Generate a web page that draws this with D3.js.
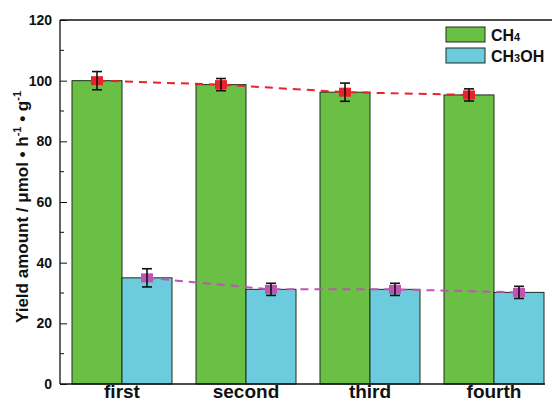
<!DOCTYPE html>
<html><head><meta charset="utf-8">
<script src="https://cdn.jsdelivr.net/npm/d3@7"></script>
<style>body{margin:0;background:#fff}svg{display:block}text{font-family:"Liberation Sans",Arial,sans-serif;font-weight:bold}</style>
</head><body>
<svg id="c" width="552" height="402"></svg>
<script>
const categories = ["first","second","third","fourth"];
const ch4 = [100, 98.7, 96.2, 95.3];
const ch4Err = [3, 2, 3, 2];
const ch3oh = [35, 31.2, 31.2, 30.2];
const ch3ohErr = [3, 2, 2, 2];
const yTicks = [0,20,40,60,80,100,120];

const svg = d3.select("#c");
const L = 60, T = 20, B = 384;
const y = d3.scaleLinear().domain([0,120]).range([B,T]);
const x0 = d3.scaleBand().domain(categories).range([72, 544]).paddingInner(24/124).paddingOuter(0);
const bw = x0.bandwidth()/2;
const gx = c => x0(c);

const colors = {ch4:"#6abf45", ch3oh:"#6ccbdc"};

const g = svg.append("g");
categories.forEach((c,i)=>{
  g.append("rect").attr("x",gx(c)).attr("y",y(ch4[i])).attr("width",bw).attr("height",B-y(ch4[i]))
    .attr("fill",colors.ch4).attr("stroke","#1f2f1f").attr("stroke-width",1);
  g.append("rect").attr("x",gx(c)+bw).attr("y",y(ch3oh[i])).attr("width",bw).attr("height",B-y(ch3oh[i]))
    .attr("fill",colors.ch3oh).attr("stroke","#1f2f1f").attr("stroke-width",1);
});

function series(vals, errs, off, col){
  const pts = categories.map((c,i)=>[gx(c)+off, y(vals[i])]);
  svg.append("path").attr("d", d3.line()(pts)).attr("fill","none").attr("stroke",col)
    .attr("stroke-width",2).attr("stroke-dasharray","8,6");
  categories.forEach((c,i)=>{
    const cx = gx(c)+off;
    svg.append("rect").attr("x",cx-6).attr("y",y(vals[i])-4.5).attr("width",12).attr("height",9).attr("fill",col);
    const e = svg.append("g").attr("stroke","#111").attr("stroke-width",1.6);
    e.append("line").attr("x1",cx).attr("x2",cx).attr("y1",y(vals[i]+errs[i])).attr("y2",y(vals[i]-errs[i]));
    e.append("line").attr("x1",cx-5).attr("x2",cx+5).attr("y1",y(vals[i]+errs[i])).attr("y2",y(vals[i]+errs[i]));
    e.append("line").attr("x1",cx-5).attr("x2",cx+5).attr("y1",y(vals[i]-errs[i])).attr("y2",y(vals[i]-errs[i]));
  });
}
series(ch4, ch4Err, bw/2, "#e8242b");
series(ch3oh, ch3ohErr, bw*1.5, "#c054b4");

const ay = svg.append("g").attr("transform",`translate(${L},0)`)
  .call(d3.axisLeft(y).tickValues(yTicks).tickSize(-7).tickPadding(8));
ay.select(".domain").remove();
ay.selectAll("text").attr("font-size",14).attr("font-weight","bold").attr("fill","#111").attr("font-family","Liberation Sans, Arial, sans-serif");
ay.selectAll("line").attr("stroke","#111");
const minor = d3.range(10,120,20);
svg.append("g").selectAll("line").data(minor).join("line")
  .attr("x1",L).attr("x2",L+4).attr("y1",d=>y(d)).attr("y2",d=>y(d)).attr("stroke","#111");
svg.append("line").attr("x1",L).attr("x2",L).attr("y1",T).attr("y2",B).attr("stroke","#111").attr("stroke-width",1.3);
svg.append("line").attr("x1",L).attr("x2",552).attr("y1",T).attr("y2",T).attr("stroke","#111").attr("stroke-width",1.3);
svg.append("line").attr("x1",L).attr("x2",545).attr("y1",B).attr("y2",B).attr("stroke","#111").attr("stroke-width",1.3);

svg.append("g").selectAll("text").data(categories).join("text")
  .attr("x",c=>gx(c)+bw).attr("y",398).attr("text-anchor","middle").attr("font-size",19).attr("fill","#111").text(d=>d);

const yl = svg.append("text").attr("transform",`translate(28,207) rotate(-90)`).attr("text-anchor","middle")
  .attr("font-size",17).attr("fill","#111");
yl.append("tspan").text("Yield amount / μmol • h");
yl.append("tspan").attr("dy",-7).attr("font-size",11).text("-1");
yl.append("tspan").attr("dy",7).text(" • g");
yl.append("tspan").attr("dy",-7).attr("font-size",11).text("-1");

const leg = [{c:colors.ch4, t:["CH","4",""]},{c:colors.ch3oh, t:["CH","3","OH"]}];
leg.forEach((d,i)=>{
  svg.append("rect").attr("x",446).attr("y",27+i*21).attr("width",39).attr("height",15)
    .attr("fill",d.c).attr("stroke","#1f2f1f").attr("stroke-width",1);
  const t = svg.append("text").attr("x",491).attr("y",41+i*21).attr("font-size",16).attr("font-weight","normal").attr("fill","#111");
  t.append("tspan").text(d.t[0]);
  t.append("tspan").attr("font-size",11).text(d.t[1]);
  t.append("tspan").text(d.t[2]);
});
</script>
</body></html>
